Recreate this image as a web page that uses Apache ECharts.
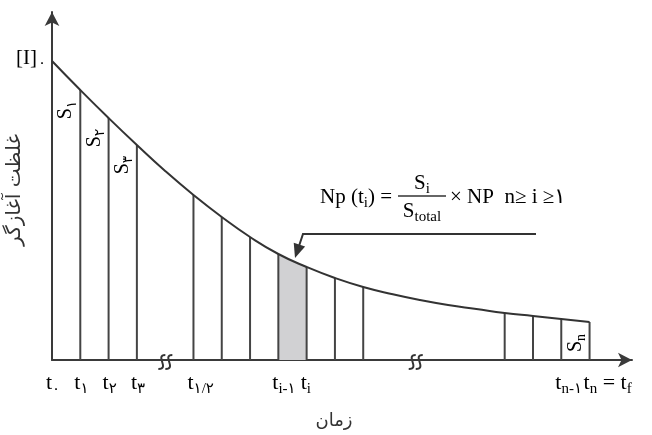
<!DOCTYPE html>
<html>
<head>
<meta charset="utf-8">
<script src="https://cdn.jsdelivr.net/npm/echarts@6/dist/echarts.min.js"></script>
<style>
  html, body { margin: 0; padding: 0; background: #fff; }
  #chart { width: 652px; height: 435px; }
</style>
</head>
<body>
<div id="chart"></div>
<script>
// Sampling instants, in units of the sampling interval
const timeSteps = [0, 1, 2, 3, 4, 5, 6, 7, 8, 9, 10, 11, 12, 13, 14, 15, 16, 17, 18, 19];
// Initiator concentration at each instant (arbitrary units)
const concentration = [299, 270, 242, 215, 189, 165, 143, 123, 106, 93, 82, 73, 66, 60, 55, 51, 47, 44, 41, 38];
// Instants that get a vertical divider under the curve
const dividerSteps = [1, 2, 3, 5, 6, 7, 8, 9, 10, 11, 16, 17, 18, 19];
// The highlighted strip S_i lies between these two instants
const highlightStrip = [8, 9];
// Strip names: right edge of the strip, subscript, where it sits
const stripLabels = [
  { step: 1,  sub: '۱', place: 'top' },
  { step: 2,  sub: '۲', place: 'top' },
  { step: 3,  sub: '۳', place: 'top' },
  { step: 9,  sub: 'i', place: 'bottom' },
  { step: 19, sub: 'n', place: 'bottom' }
];
// Time tick labels: instant, subscript, trailing subscript after "= t"
const tickLabels = [
  { step: 0,  sub: '۰',   tail: '' },
  { step: 1,  sub: '۱',   tail: '' },
  { step: 2,  sub: '۲',   tail: '' },
  { step: 3,  sub: '۳',   tail: '' },
  { step: 5,  sub: '۱/۲', tail: '' },
  { step: 8,  sub: 'i-۱', tail: '' },
  { step: 9,  sub: 'i',   tail: '' },
  { step: 18, sub: 'n-۱', tail: '' },
  { step: 19, sub: 'n',   tail: 'f' }
];
// Axis breaks drawn on the time axis
const breakSteps = [3.9, 12.75];

const INK = '#333333';
const SERIF = "'Liberation Serif', 'DejaVu Serif', 'DejaVu Sans', serif";
const PERSIAN = "'DejaVu Sans', 'Noto Sans', sans-serif";

const chart = echarts.init(document.getElementById('chart'), null, { renderer: 'canvas' });

const option = {
  animation: false,
  backgroundColor: '#ffffff',
  grid: { left: 52, right: 20, top: 12, bottom: 75 },
  xAxis: {
    type: 'value', min: 0, max: 20.5,
    axisLine: { show: true, onZero: false, symbol: ['none', 'arrow'], symbolSize: [11, 14],
                lineStyle: { color: '#3a3a3a', width: 2 } },
    axisTick: { show: false }, axisLabel: { show: false }, splitLine: { show: false }
  },
  yAxis: {
    type: 'value', min: 0, max: 348,
    axisLine: { show: true, onZero: false, symbol: ['none', 'arrow'], symbolSize: [11, 14],
                lineStyle: { color: '#3a3a3a', width: 2 } },
    axisTick: { show: false }, axisLabel: { show: false }, splitLine: { show: false }
  },
  series: [
    {
      // shaded strip S_i
      type: 'line',
      data: highlightStrip.map(s => [s, concentration[timeSteps.indexOf(s)]]),
      symbol: 'none',
      lineStyle: { width: 0 },
      areaStyle: { color: '#d1d1d3', opacity: 1 },
      z: 1
    },
    {
      // vertical dividers from the time axis up to the curve
      type: 'custom',
      data: dividerSteps.map(s => [s, concentration[timeSteps.indexOf(s)]]),
      renderItem: function (params, api) {
        const a = api.coord([api.value(0), 0]);
        const b = api.coord([api.value(0), api.value(1)]);
        return {
          type: 'line',
          shape: { x1: a[0], y1: a[1], x2: b[0], y2: b[1] },
          style: { stroke: '#444444', lineWidth: 2 }
        };
      },
      z: 2
    },
    {
      // concentration decay curve
      type: 'line',
      data: timeSteps.map((t, i) => [t, concentration[i]]),
      smooth: 0.5,
      symbol: 'none',
      lineStyle: { color: INK, width: 2 },
      z: 3
    }
  ]
};
chart.setOption(option);

const px = (x, y) => chart.convertToPixel({ gridIndex: 0 }, [x, y]);
const graphics = [];

const subRich = {
  m: { fontFamily: SERIF, fontSize: 22, color: INK, verticalAlign: 'top', lineHeight: 23 },
  s: { fontFamily: SERIF, fontSize: 15, color: INK, verticalAlign: 'top', padding: [10, 0, 0, 0], lineHeight: 16 }
};
const formulaRich = {
  m: { fontFamily: SERIF, fontSize: 21, color: INK, verticalAlign: 'top', lineHeight: 22 },
  s: { fontFamily: SERIF, fontSize: 15, color: INK, verticalAlign: 'top', padding: [9, 0, 0, 0], lineHeight: 16 }
};

// time tick labels
tickLabels.forEach(t => {
  const p = px(t.step, 0);
  let txt = '{m|t}{s|' + t.sub + '}';
  if (t.tail) txt += '{m| = t}{s|' + t.tail + '}';
  graphics.push({
    type: 'text', x: p[0] - 6, y: p[1] + 12,
    style: { text: txt, rich: subRich, align: 'left', verticalAlign: 'top' }
  });
});

// strip names, rotated to read upwards
stripLabels.forEach(l => {
  const idx = timeSteps.indexOf(l.step);
  const yVal = l.place === 'top' ? concentration[idx] - 20 : 17;
  const p = px(l.step - 0.5, yVal);
  graphics.push({
    type: 'text', x: p[0], y: p[1], rotation: Math.PI / 2,
    style: { text: '{m|S}{s|' + l.sub + '}', rich: {
      m: { fontFamily: SERIF, fontSize: 20, color: INK, verticalAlign: 'top', lineHeight: 20 },
      s: { fontFamily: SERIF, fontSize: 14, color: INK, verticalAlign: 'top', padding: [9, 0, 0, 0], lineHeight: 14 }
    }, align: 'center', verticalAlign: 'middle' }
  });
});

// initial concentration label next to the top of the curve
const pStart = px(0, concentration[0]);
graphics.push({
  type: 'text', x: pStart[0] - 6, y: pStart[1] - 2,
  style: { text: '{m|[I]}{s|۰}', rich: {
    m: { fontFamily: SERIF, fontSize: 21, color: INK, verticalAlign: 'top', lineHeight: 22 },
    s: { fontFamily: SERIF, fontSize: 15, color: INK, verticalAlign: 'top', padding: [8, 0, 0, 1], lineHeight: 16 }
  }, align: 'right', verticalAlign: 'middle' }
});

// axis breaks: two small S-shaped strokes across the time axis
breakSteps.forEach(b => {
  const p = px(b, 0);
  [0, 7].forEach(dx => {
    const cx = p[0] + dx, cy = p[1] + 2;
    graphics.push({
      type: 'bezierCurve',
      shape: { x1: cx + 3, y1: cy - 7, cpx1: cx - 8, cpy1: cy - 7, cpx2: cx + 8, cpy2: cy + 7, x2: cx - 4, y2: cy + 7 },
      style: { fill: null, stroke: INK, lineWidth: 2 }
    });
  });
});

// formula for the number of particles in each strip
graphics.push({
  type: 'text', x: 320, y: 198,
  style: { text: '{m|Np (t}{s|i}{m|) =}', rich: formulaRich, align: 'left', verticalAlign: 'middle' }
});
graphics.push({
  type: 'text', x: 422, y: 184,
  style: { text: '{m|S}{s|i}', rich: formulaRich, align: 'center', verticalAlign: 'middle' }
});
graphics.push({
  type: 'line', shape: { x1: 398, y1: 196, x2: 446, y2: 196 },
  style: { stroke: INK, lineWidth: 1.5 }
});
graphics.push({
  type: 'text', x: 422, y: 212,
  style: { text: '{m|S}{s|total}', rich: formulaRich, align: 'center', verticalAlign: 'middle' }
});
graphics.push({
  type: 'text', x: 450, y: 198,
  style: { text: '{m|× NP  n≥ i ≥۱}', rich: formulaRich, align: 'left', verticalAlign: 'middle' }
});

// pointer from the formula down to the highlighted strip
const tip = [295, 258], bend = [303, 234];
graphics.push({
  type: 'polyline', shape: { points: [[536, 234], bend, [bend[0] - 4, 246]] },
  style: { stroke: INK, lineWidth: 2, fill: null }
});
(function () {
  const dx = tip[0] - bend[0], dy = tip[1] - bend[1];
  const len = Math.hypot(dx, dy), ux = dx / len, uy = dy / len;
  const bx = tip[0] - 14 * ux, by = tip[1] - 14 * uy;
  graphics.push({
    type: 'polygon',
    shape: { points: [tip, [bx - 6 * uy, by + 6 * ux], [bx + 6 * uy, by - 6 * ux]] },
    style: { fill: INK }
  });
})();

// axis titles
graphics.push({
  type: 'text', x: 334, y: 421,
  style: { text: 'زمان', fontFamily: PERSIAN, fontSize: 18, fill: INK, align: 'center', verticalAlign: 'middle' }
});
graphics.push({
  type: 'text', x: 15, y: 190, rotation: Math.PI / 2,
  style: { text: 'غلظت آغازگر', fontFamily: PERSIAN, fontSize: 20, fill: INK, align: 'center', verticalAlign: 'middle' }
});

chart.setOption({ graphic: { elements: graphics } });
</script>
</body>
</html>
